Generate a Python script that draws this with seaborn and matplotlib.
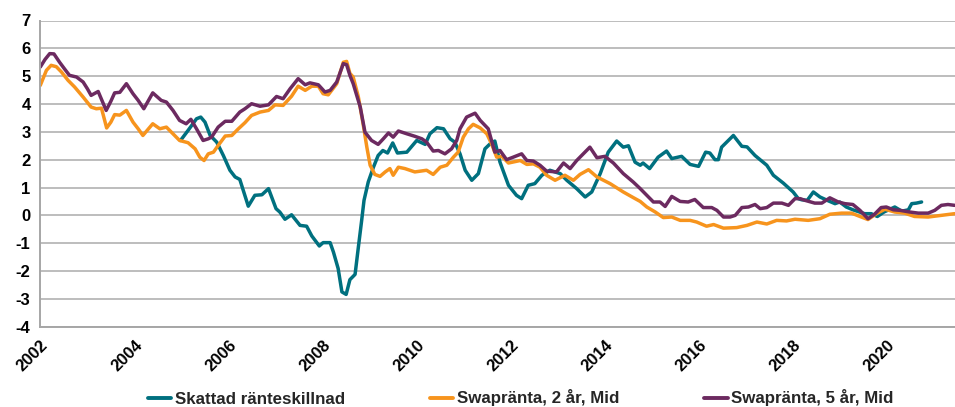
import numpy as np
import pandas as pd
import matplotlib
matplotlib.use("Agg")
import matplotlib.pyplot as plt
import seaborn as sns

# ---- data (decimal years, percent) ----
teal_x = [2004.98, 2005.14, 2005.32, 2005.41, 2005.50, 2005.61, 2005.75, 2005.89, 2006.03, 2006.14,
          2006.24, 2006.42, 2006.56, 2006.71, 2006.85, 2007.01, 2007.09, 2007.20, 2007.34, 2007.52,
          2007.66, 2007.77, 2007.93, 2008.01, 2008.16, 2008.23, 2008.33, 2008.41, 2008.50, 2008.58,
          2008.69, 2008.76, 2008.83, 2008.88, 2008.97, 2009.08, 2009.18, 2009.28, 2009.38, 2009.49,
          2009.59, 2009.79, 2010.00, 2010.18, 2010.28, 2010.43, 2010.57, 2010.71, 2010.81, 2010.92,
          2011.03, 2011.17, 2011.31, 2011.45, 2011.56, 2011.66, 2011.77, 2011.95, 2012.12, 2012.23,
          2012.37, 2012.51, 2012.66, 2012.83, 2013.05, 2013.19, 2013.40, 2013.58, 2013.72, 2013.90,
          2014.07, 2014.25, 2014.39, 2014.50, 2014.64, 2014.75, 2014.81, 2014.95, 2015.13, 2015.31,
          2015.42, 2015.63, 2015.81, 2015.99, 2016.14, 2016.23, 2016.34, 2016.41, 2016.48, 2016.73,
          2016.91, 2017.02, 2017.19, 2017.44, 2017.58, 2017.79, 2018.00, 2018.11, 2018.18, 2018.30,
          2018.43, 2018.57, 2018.75, 2018.89, 2018.99, 2019.13, 2019.27, 2019.41, 2019.52, 2019.66,
          2019.79, 2019.93, 2020.16, 2020.31, 2020.45, 2020.52, 2020.62, 2020.73]
teal_y = [2.69, 3.05, 3.47, 3.53, 3.35, 2.87, 2.63, 2.15, 1.62, 1.38,
          1.29, 0.33, 0.72, 0.74, 0.96, 0.24, 0.12, -0.14, 0.02, -0.36,
          -0.39, -0.74, -1.10, -0.98, -0.98, -1.32, -1.91, -2.75, -2.84, -2.31,
          -2.12, -1.14, -0.18, 0.54, 1.20, 1.73, 2.15, 2.33, 2.24, 2.60,
          2.24, 2.27, 2.69, 2.55, 2.93, 3.15, 3.11, 2.75, 2.63, 2.21,
          1.62, 1.26, 1.50, 2.39, 2.57, 2.67, 1.91, 1.08, 0.72, 0.60,
          1.08, 1.14, 1.44, 1.62, 1.50, 1.26, 0.96, 0.66, 0.84, 1.50,
          2.27, 2.67, 2.45, 2.50, 1.91, 1.80, 1.88, 1.68, 2.09, 2.31,
          2.04, 2.12, 1.83, 1.76, 2.27, 2.24, 2.00, 2.00, 2.45, 2.87,
          2.48, 2.46, 2.15, 1.80, 1.44, 1.16, 0.84, 0.60, 0.56, 0.54,
          0.84, 0.66, 0.52, 0.42, 0.48, 0.30, 0.20, 0.12, 0.06, 0.06,
          -0.04, 0.12, 0.30, 0.15, 0.20, 0.42, 0.44, 0.48]

swap2_x = [2002.00, 2002.13, 2002.23, 2002.34, 2002.45, 2002.59, 2002.73, 2002.91, 2003.08, 2003.19,
           2003.30, 2003.41, 2003.50, 2003.58, 2003.69, 2003.83, 2003.97, 2004.08, 2004.18, 2004.39,
           2004.54, 2004.68, 2004.82, 2004.96, 2005.14, 2005.29, 2005.39, 2005.48, 2005.57, 2005.68,
           2005.78, 2005.93, 2006.07, 2006.21, 2006.35, 2006.49, 2006.67, 2006.85, 2006.99, 2007.16,
           2007.34, 2007.48, 2007.63, 2007.77, 2007.91, 2008.01, 2008.12, 2008.30, 2008.44, 2008.51,
           2008.58, 2008.65, 2008.76, 2008.86, 2008.94, 2009.01, 2009.11, 2009.22, 2009.33, 2009.43,
           2009.50, 2009.61, 2009.75, 2009.96, 2010.21, 2010.35, 2010.50, 2010.64, 2010.78, 2010.88,
           2010.99, 2011.10, 2011.20, 2011.35, 2011.49, 2011.59, 2011.70, 2011.81, 2011.95, 2012.20,
           2012.34, 2012.48, 2012.62, 2012.76, 2012.94, 2013.15, 2013.33, 2013.47, 2013.65, 2013.83,
           2014.11, 2014.39, 2014.60, 2014.75, 2014.89, 2015.07, 2015.24, 2015.42, 2015.60, 2015.81,
           2015.95, 2016.16, 2016.31, 2016.52, 2016.80, 2017.02, 2017.23, 2017.44, 2017.65, 2017.86,
           2018.04, 2018.32, 2018.57, 2018.78, 2019.03, 2019.24, 2019.42, 2019.59, 2019.77, 2019.95,
           2020.16, 2020.37, 2020.58, 2020.87, 2021.15, 2021.43]
swap2_y = [4.67, 5.21, 5.39, 5.34, 5.15, 4.85, 4.61, 4.25, 3.89, 3.83,
           3.85, 3.14, 3.35, 3.62, 3.60, 3.77, 3.35, 3.11, 2.87, 3.29,
           3.11, 3.17, 2.93, 2.69, 2.61, 2.39, 2.09, 1.97, 2.21, 2.27,
           2.51, 2.85, 2.87, 3.11, 3.33, 3.59, 3.71, 3.77, 3.97, 3.95,
           4.28, 4.64, 4.49, 4.64, 4.64, 4.37, 4.33, 4.73, 5.50, 5.53,
           5.10, 4.97, 4.25, 3.29, 2.45, 1.80, 1.47, 1.40, 1.56, 1.68,
           1.44, 1.73, 1.68, 1.56, 1.62, 1.47, 1.73, 1.80, 2.09, 2.27,
           2.81, 3.11, 3.27, 3.14, 2.93, 2.57, 2.09, 2.12, 1.88, 1.97,
           1.83, 1.85, 1.73, 1.44, 1.26, 1.44, 1.26, 1.47, 1.64, 1.38,
           1.14, 0.84, 0.64, 0.50, 0.30, 0.12, -0.08, -0.06, -0.18, -0.18,
           -0.24, -0.39, -0.33, -0.46, -0.44, -0.36, -0.24, -0.31, -0.18, -0.20,
           -0.14, -0.18, -0.12, 0.04, 0.08, 0.08, -0.04, -0.15, 0.06, 0.22,
           0.12, 0.08, -0.04, -0.06, 0.00, 0.06]

swap5_x = [2002.00, 2002.10, 2002.20, 2002.29, 2002.41, 2002.52, 2002.62, 2002.77, 2002.91, 2003.00,
           2003.08, 2003.23, 2003.40, 2003.50, 2003.58, 2003.69, 2003.83, 2003.97, 2004.08, 2004.20,
           2004.39, 2004.57, 2004.68, 2004.82, 2004.96, 2005.10, 2005.20, 2005.32, 2005.46, 2005.57,
           2005.64, 2005.78, 2005.93, 2006.07, 2006.24, 2006.35, 2006.49, 2006.67, 2006.85, 2007.02,
           2007.16, 2007.31, 2007.48, 2007.63, 2007.73, 2007.91, 2008.05, 2008.16, 2008.30, 2008.44,
           2008.51, 2008.58, 2008.65, 2008.80, 2008.90, 2009.04, 2009.18, 2009.29, 2009.40, 2009.50,
           2009.61, 2009.79, 2009.96, 2010.11, 2010.21, 2010.35, 2010.46, 2010.60, 2010.74, 2010.85,
           2010.92, 2011.06, 2011.24, 2011.35, 2011.52, 2011.59, 2011.66, 2011.77, 2011.91, 2012.05,
           2012.23, 2012.34, 2012.48, 2012.62, 2012.76, 2012.97, 2013.12, 2013.26, 2013.40, 2013.68,
           2013.83, 2014.00, 2014.18, 2014.39, 2014.60, 2014.75, 2014.89, 2015.03, 2015.17, 2015.28,
           2015.42, 2015.60, 2015.77, 2015.91, 2016.09, 2016.27, 2016.38, 2016.52, 2016.66, 2016.77,
           2016.91, 2017.05, 2017.19, 2017.30, 2017.44, 2017.58, 2017.76, 2017.90, 2018.04, 2018.15,
           2018.25, 2018.46, 2018.61, 2018.78, 2018.96, 2019.10, 2019.27, 2019.42, 2019.59, 2019.73,
           2019.87, 2019.98, 2020.13, 2020.27, 2020.48, 2020.66, 2020.87, 2021.01, 2021.15, 2021.29,
           2021.43]
swap5_y = [5.33, 5.60, 5.81, 5.80, 5.50, 5.25, 5.03, 4.97, 4.79, 4.55,
           4.31, 4.45, 3.77, 4.10, 4.40, 4.42, 4.73, 4.37, 4.13, 3.83,
           4.40, 4.13, 4.07, 3.77, 3.41, 3.29, 3.45, 3.11, 2.69, 2.75,
           2.81, 3.17, 3.38, 3.38, 3.71, 3.83, 4.01, 3.92, 3.97, 4.27,
           4.19, 4.55, 4.91, 4.69, 4.76, 4.69, 4.43, 4.49, 4.79, 5.45,
           5.41, 5.03, 4.73, 3.89, 2.99, 2.69, 2.55, 2.75, 2.96, 2.81,
           3.03, 2.93, 2.84, 2.75, 2.63, 2.31, 2.33, 2.21, 2.39, 2.69,
           3.11, 3.53, 3.67, 3.41, 3.11, 2.69, 2.27, 2.33, 2.00, 2.09,
           2.21, 1.97, 1.95, 1.80, 1.59, 1.56, 1.88, 1.68, 1.97, 2.45,
           2.07, 2.12, 1.88, 1.50, 1.20, 0.96, 0.72, 0.48, 0.48, 0.32,
           0.68, 0.50, 0.48, 0.57, 0.28, 0.28, 0.18, -0.06, -0.06, 0.00,
           0.28, 0.30, 0.39, 0.24, 0.28, 0.44, 0.44, 0.36, 0.60, 0.60,
           0.54, 0.44, 0.44, 0.63, 0.48, 0.42, 0.39, 0.18, -0.12, 0.04,
           0.28, 0.30, 0.20, 0.18, 0.12, 0.08, 0.08, 0.18, 0.36, 0.39,
           0.36]

series_names = ["Skattad ränteskillnad", "Swapränta, 2 år, Mid", "Swapränta, 5 år, Mid"]
series_colors = ["#00707F", "#F7941D", "#6C2A60"]
y_ticks = list(range(-4, 8))
x_ticks = list(range(2002, 2021, 2))

# ---- long-form table ----
df = pd.concat([
    pd.DataFrame({"year": teal_x, "value": teal_y, "series": series_names[0]}),
    pd.DataFrame({"year": swap2_x, "value": swap2_y, "series": series_names[1]}),
    pd.DataFrame({"year": swap5_x, "value": swap5_y, "series": series_names[2]}),
], ignore_index=True)

sns.set_theme(style="white")
plt.rcParams["font.family"] = ["Liberation Sans", "DejaVu Sans"]
plt.rcParams["font.weight"] = "bold"

fig = plt.figure(figsize=(9.55, 4.07), dpi=100)
ax = fig.add_axes([40.3 / 955, 1 - 326.7 / 407, 1 - 40.3 / 955, (326.7 - 20.5) / 407])

sns.lineplot(data=df, x="year", y="value", hue="series", hue_order=series_names,
             palette=series_colors, linewidth=2.5, estimator=None, sort=False,
             ax=ax, legend=False)

ax.set_xlim(2002, 2021.44)
ax.set_ylim(-4, 7)
ax.set_yticks(y_ticks)
ax.set_xticks(x_ticks)
ax.set_xticklabels([str(t) for t in x_ticks], rotation=45, ha="right",
                   rotation_mode="anchor", fontsize=12, fontweight="bold")
ax.set_yticklabels([str(t) for t in y_ticks], fontsize=12, fontweight="bold")
ax.set_xlabel("")
ax.set_ylabel("")

ax.yaxis.grid(True, color="#BDBDBD", linewidth=1.4)
ax.xaxis.grid(False)
ax.set_axisbelow(True)
for s in ["top", "right"]:
    ax.spines[s].set_visible(False)
for s in ["left", "bottom"]:
    ax.spines[s].set_color("#A6A6A6")
    ax.spines[s].set_linewidth(1.4)
ax.tick_params(axis="y", length=0, pad=7, colors="black")
ax.tick_params(axis="x", length=5, width=1.2, color="#A6A6A6", pad=3, labelcolor="black")

handles = [plt.Line2D([], [], color=c, linewidth=2.8) for c in series_colors]
fig.legend(handles, series_names, ncol=3, loc="center", bbox_to_anchor=(0.545, 9 / 407),
           frameon=False, handlelength=1.4, handletextpad=0.2, columnspacing=5.0,
           prop={"size": 12.2, "weight": "bold"})

fig.savefig("out.png", dpi=100)
